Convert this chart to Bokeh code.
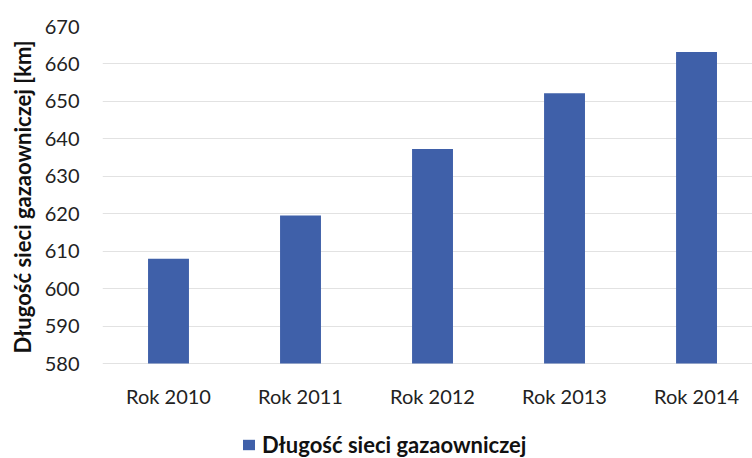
from bokeh.plotting import figure
from bokeh.models import Range1d, FixedTicker, Legend, LegendItem, ColumnDataSource, Title
from bokeh.core.properties import value
from bokeh.embed import file_html
from bokeh.resources import INLINE

categories = ["Rok 2010", "Rok 2011", "Rok 2012", "Rok 2013", "Rok 2014"]
values = [608.0, 619.5, 637.3, 652.2, 663.2]
y_ticks = [580, 590, 600, 610, 620, 630, 640, 650, 660, 670]
series_name = "Długość sieci gazaowniczej"
y_title = "Długość sieci gazaowniczej [km]"

FONT = "Lato"
BAR = "#3f60a9"

W, H = 752, 458
TOP, LEFT = 26, 102
AXIS_PX = 337  # pixel span of the 580..670 value axis
frame_h = H - TOP
y_lo, y_hi = y_ticks[0], y_ticks[-1]
y_start = y_hi - (y_hi - y_lo) * frame_h / AXIS_PX

xs = [i + 0.5 for i in range(len(categories))]
src = ColumnDataSource(dict(x=xs, top=values, cat=categories, base=[y_lo] * len(xs)))

p = figure(width=W, height=H, output_backend="svg", toolbar_location=None,
           x_range=Range1d(0, 4.924), y_range=Range1d(y_start, y_hi),
           x_axis_location=None,
           min_border_left=LEFT, min_border_right=0, min_border_top=TOP, min_border_bottom=0)
p.outline_line_color = None
p.background_fill_color = "white"
p.border_fill_color = "white"

r = p.vbar(x="x", top="top", bottom=y_lo, width=0.31, source=src,
           fill_color=BAR, line_color=None)

p.text(x="x", y="base", text="cat", source=src, y_offset=32,
       text_align="center", text_baseline="middle",
       text_font=value(FONT), text_font_size="20px", text_color="#222222")

p.xgrid.grid_line_color = None
p.ygrid.grid_line_color = "#e2e2e2"
p.ygrid.grid_line_width = 1
p.ygrid.ticker = FixedTicker(ticks=y_ticks)

p.yaxis.ticker = FixedTicker(ticks=y_ticks)
p.yaxis.axis_line_color = None
p.yaxis.major_tick_line_color = None
p.yaxis.minor_tick_line_color = None
p.yaxis.major_tick_out = 0
p.yaxis.minor_tick_out = 0
p.yaxis.major_label_standoff = 23
p.yaxis.major_label_text_font = FONT
p.yaxis.major_label_text_font_size = "20px"
p.yaxis.major_label_text_color = "#222222"

t = Title(text=y_title, align="left", offset=105, standoff=12,
          text_font=FONT, text_font_style="bold", text_font_size="22px",
          text_color="#111111")
p.add_layout(t, "left")

legend = Legend(items=[LegendItem(label=series_name, renderers=[r])],
                location=(139, 0), orientation="horizontal",
                border_line_color=None, background_fill_alpha=0,
                margin=0, padding=0, glyph_width=15, glyph_height=13,
                label_standoff=6, label_text_font=FONT,
                label_text_font_style="bold", label_text_font_size="22px",
                label_text_color="#111111")
p.add_layout(legend, "center")

open("out.html", "w").write(file_html(p, INLINE))
